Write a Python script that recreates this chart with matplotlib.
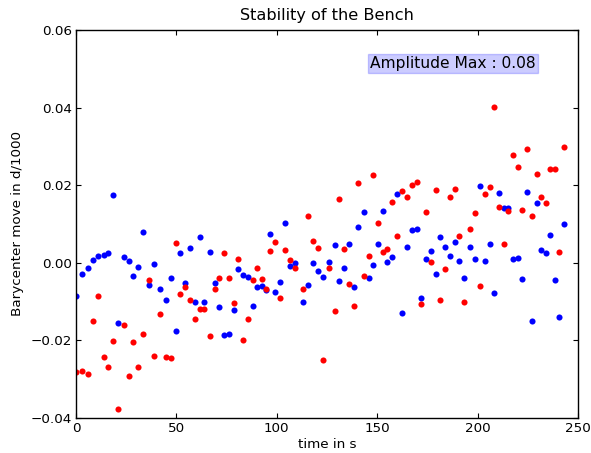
import matplotlib
matplotlib.use('Agg')
import matplotlib.pyplot as plt

# time of each sample (s)
times = [0.0, 3.1, 6.0, 8.5, 10.8, 13.8, 16.1, 18.4, 20.8, 23.8,
         26.2, 28.5, 30.9, 33.4, 36.3, 39.0, 42.0, 44.7, 47.2, 49.6,
         51.9, 54.3, 56.8, 59.2, 61.8, 63.9, 66.6, 69.0, 71.4, 73.9,
         76.2, 78.7, 80.7, 83.2, 85.5, 88.0, 90.0, 92.5, 94.8, 96.8,
         99.3, 101.6, 104.1, 106.5, 109.2, 112.9, 115.4, 118.2, 120.7, 123.0,
         126.0, 128.8, 131.1, 133.6, 136.0, 138.4, 140.4, 143.3, 145.8, 147.8,
         150.2, 153.0, 154.9, 157.4, 159.9, 162.4, 164.7, 167.2, 169.7, 172.0,
         174.5, 176.8, 179.3, 181.3, 183.6, 186.4, 188.6, 190.9, 193.4, 196.2,
         198.7, 201.0, 203.5, 206.0, 208.3, 210.8, 213.0, 215.3, 217.6, 220.0,
         222.1, 224.6, 226.9, 229.4, 231.4, 233.9, 236.3, 238.4, 240.7, 243.2]

# barycenter move, x direction (blue)
move_x = [-0.0085, -0.0029, -0.0013, 0.0007, 0.0018, 0.0019, 0.0024, 0.0175, -0.0154, 0.0015,
          0.0005, -0.0035, -0.0010, 0.0080, -0.0056, -0.0002, -0.0068, -0.0096, -0.0039, -0.0176,
          0.0024, -0.0052, 0.0038, -0.0102, 0.0067, -0.0100, 0.0028, -0.0052, -0.0115, -0.0186,
          -0.0184, -0.0122, -0.0016, -0.0031, -0.0037, -0.0112, -0.0062, -0.0061, -0.0069, 0.0074,
          -0.0075, -0.0050, 0.0103, -0.0007, -0.0001, -0.0102, -0.0056, 0.0000, -0.0022, -0.0037,
          0.0002, 0.0047, -0.0046, -0.0014, 0.0048, -0.0062, 0.0092, 0.0132, -0.0040, -0.0006,
          0.0048, 0.0134, 0.0002, 0.0015, 0.0177, -0.0129, 0.0040, 0.0085, 0.0086, -0.0092,
          0.0011, 0.0030, -0.0029, 0.0067, 0.0042, 0.0018, 0.0053, 0.0005, -0.0039, 0.0042,
          0.0009, 0.0197, 0.0005, 0.0048, -0.0077, 0.0181, 0.0140, 0.0140, 0.0011, 0.0013,
          -0.0042, 0.0183, -0.0150, 0.0155, 0.0034, 0.0024, 0.0072, -0.0044, -0.0140, 0.0101]

# barycenter move, y direction (red)
move_y = [-0.0281, -0.0278, -0.0286, -0.0150, -0.0085, -0.0242, -0.0269, -0.0201, -0.0378, -0.0160,
          -0.0293, -0.0204, -0.0269, -0.0184, -0.0045, -0.0239, -0.0131, -0.0242, -0.0246, 0.0051,
          -0.0081, -0.0062, -0.0096, -0.0144, -0.0119, -0.0119, -0.0188, -0.0067, -0.0039, 0.0025,
          -0.0039, -0.0104, 0.0011, -0.0199, -0.0144, -0.0045, -0.0013, -0.0043, -0.0067, 0.0030,
          0.0053, -0.0092, 0.0034, 0.0007, -0.0013, -0.0068, 0.0121, 0.0055, 0.0038, -0.0250,
          -0.0013, -0.0125, 0.0164, 0.0036, -0.0054, -0.0111, 0.0206, -0.0033, 0.0018, 0.0226,
          0.0103, 0.0029, 0.0036, 0.0157, 0.0069, 0.0184, 0.0170, 0.0201, 0.0207, -0.0106,
          0.0130, 0.0002, 0.0187, -0.0096, -0.0015, 0.0170, 0.0191, 0.0069, -0.0100, 0.0086,
          0.0128, -0.0060, 0.0178, 0.0195, 0.0402, 0.0143, 0.0048, 0.0133, 0.0279, 0.0248,
          0.0137, 0.0293, 0.0120, 0.0228, 0.0170, 0.0155, 0.0241, 0.0241, 0.0028, 0.0299]

amplitude_text = 'Amplitude Max : 0.08'

fig = plt.figure(figsize=(5.91, 4.53), dpi=100)
ax = fig.add_axes([76 / 591, 1 - 418 / 453, 502 / 591, 388 / 453])

ax.plot(times, move_x, 'o', color='b', markersize=4.4, markeredgewidth=0)
ax.plot(times, move_y, 'o', color='r', markersize=4.4, markeredgewidth=0)

ax.set_xlim(0, 250)
ax.set_ylim(-0.04, 0.06)
ax.set_yticks([-0.04, -0.02, 0.00, 0.02, 0.04, 0.06])
ax.set_yticklabels(['\u22120.04', '\u22120.02', '0.00', '0.02', '0.04', '0.06'])
ax.tick_params(direction='in', top=True, right=True, length=3.6, labelsize=9.7, pad=3)
for s in ax.spines.values():
    s.set_linewidth(1.0)

ax.set_xlabel('time in s', fontsize=9.7, labelpad=2)
ax.set_ylabel('Barycenter move in d/1000', fontsize=9.7, labelpad=5)
ax.set_title('Stability of the Bench', fontsize=11.6, pad=7)

ax.text(146.4, 0.0514, amplitude_text, fontsize=11.2, va='center',
        bbox=dict(facecolor='blue', alpha=0.2, edgecolor='blue', pad=1.5))

fig.savefig('out.png', dpi=100)
